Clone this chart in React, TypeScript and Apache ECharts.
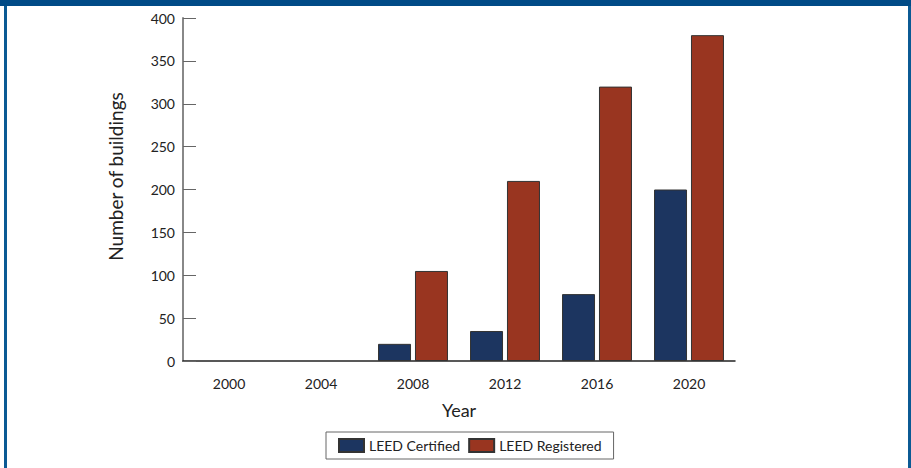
import React, { useEffect, useRef } from "react";
import * as echarts from "echarts";

const years = ["2000", "2004", "2008", "2012", "2016", "2020"];
const certified = [0, 0, 20, 35, 78, 200];
const registered = [0, 0, 105, 210, 320, 380];
const yTicks = { min: 0, max: 400, interval: 50 };

const toData = (arr: number[]) =>
  arr.map((v) => (v === 0 ? { value: v, itemStyle: { borderWidth: 0 } } : v));

export default function App() {
  const ref = useRef<HTMLDivElement>(null);
  useEffect(() => {
    const chart = echarts.init(ref.current!, null, { renderer: "svg" });
    const font = "Lato";
    chart.setOption({
      animation: false,
      backgroundColor: "#ffffff",
      textStyle: { fontFamily: font },
      graphic: [
        { type: "rect", shape: { x: 0, y: 0, width: 911, height: 6 }, style: { fill: "#004b87" }, silent: true },
        { type: "rect", shape: { x: 4, y: 6, width: 3, height: 462 }, style: { fill: "#0b5a94" }, silent: true },
        { type: "rect", shape: { x: 908, y: 6, width: 3, height: 462 }, style: { fill: "#0b5a94" }, silent: true },
      ],
      grid: { left: 183, top: 18, right: 176, bottom: 107 },
      legend: {
        left: 326,
        top: 432,
        orient: "horizontal",
        padding: [6, 12, 6, 12],
        borderColor: "#666",
        borderWidth: 1,
        icon: "rect",
        itemWidth: 25,
        itemHeight: 13,
        itemGap: 8,
        textStyle: { fontFamily: font, fontSize: 14, color: "#222" },
        data: ["LEED Certified", "LEED Registered"],
      },
      xAxis: {
        type: "category",
        data: years,
        name: "Year",
        nameLocation: "middle",
        nameGap: 40,
        nameTextStyle: { fontFamily: font, fontSize: 18, color: "#222" },
        axisLine: { lineStyle: { color: "#222", width: 1.5 } },
        axisTick: { inside: true, length: 9, lineStyle: { color: "#888", width: 1.5 } },
        axisLabel: { fontFamily: font, fontSize: 14, color: "#222", margin: 15 },
      },
      yAxis: {
        type: "value",
        min: yTicks.min,
        max: yTicks.max,
        interval: yTicks.interval,
        name: "Number of buildings",
        nameLocation: "middle",
        nameGap: 58,
        nameTextStyle: { fontFamily: font, fontSize: 19, color: "#222", padding: [0, 0, 0, 26] },
        axisLine: { show: true, lineStyle: { color: "#888", width: 2 } },
        axisTick: { show: true, inside: true, length: 13, lineStyle: { color: "#666", width: 1 } },
        axisLabel: { fontFamily: font, fontSize: 14, color: "#222", margin: 8 },
        splitLine: { show: false },
      },
      series: [
        {
          name: "LEED Certified",
          type: "bar",
          data: toData(certified),
          barWidth: 33,
          barGap: "12%",
          itemStyle: { color: "#1c3560", borderColor: "#333", borderWidth: 1 },
        },
        {
          name: "LEED Registered",
          type: "bar",
          data: toData(registered),
          barWidth: 33,
          barGap: "12%",
          itemStyle: { color: "#993520", borderColor: "#333", borderWidth: 1 },
        },
      ],
    });
    return () => chart.dispose();
  }, []);
  return (
    <div
      ref={ref}
      style={{ position: "absolute", left: 0, top: 0, width: 911, height: 468 }}
    />
  );
}
